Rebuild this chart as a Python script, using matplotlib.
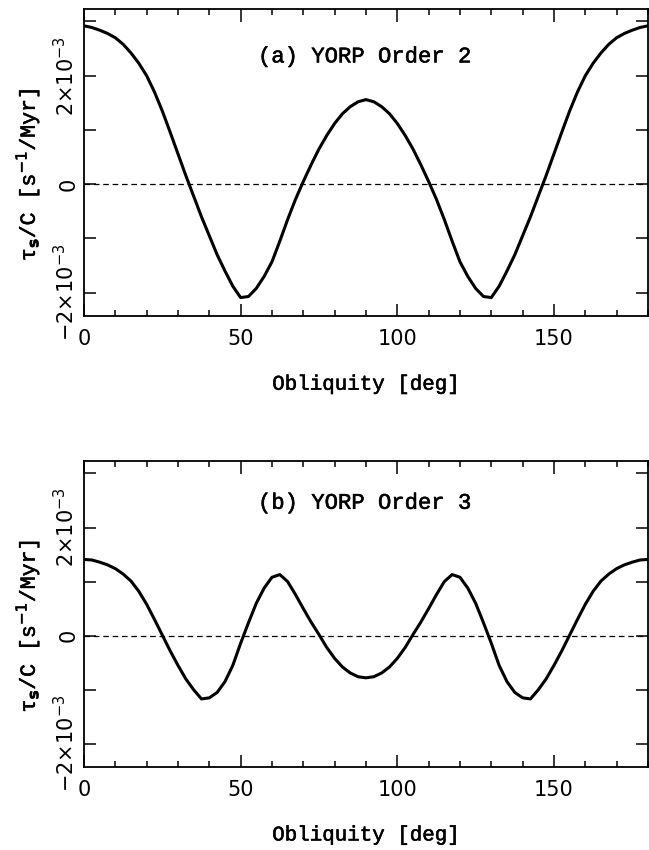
import numpy as np
import matplotlib
matplotlib.use('Agg')
import matplotlib.pyplot as plt
import matplotlib.patheffects as pe
from matplotlib.ticker import MultipleLocator, FixedLocator

# obliquity grid [deg]
obliquity = np.arange(0, 180.1, 2.5)

# torque values, in units of 1e-3 s^-1/Myr
order2 = [2.92, 2.89, 2.84, 2.78, 2.70, 2.58, 2.42, 2.23, 2.00, 1.70, 1.35, 0.96,
          0.56, 0.16, -0.22, -0.60, -0.95, -1.30, -1.60, -1.88, -2.09, -2.07, -1.92,
          -1.70, -1.43, -1.05, -0.65, -0.28, 0.05, 0.36, 0.65, 0.90, 1.12, 1.30, 1.43,
          1.52, 1.56,
          1.52, 1.43, 1.30, 1.12, 0.90, 0.65, 0.36, 0.05, -0.28, -0.65, -1.05, -1.43,
          -1.70, -1.92, -2.07, -2.09, -1.88, -1.60, -1.30, -0.95, -0.60, -0.22, 0.16,
          0.56, 0.96, 1.35, 1.70, 2.00, 2.23, 2.42, 2.58, 2.70, 2.78, 2.84, 2.89, 2.92]

order3 = [1.41, 1.40, 1.36, 1.31, 1.24, 1.14, 1.01, 0.82, 0.58, 0.30, 0.01, -0.28,
          -0.55, -0.80, -1.00, -1.17, -1.15, -1.05, -0.85, -0.55, -0.14, 0.24, 0.60,
          0.88, 1.08, 1.13, 1.00, 0.76, 0.50, 0.25, 0.02, -0.22, -0.42, -0.58, -0.69,
          -0.76, -0.78,
          -0.76, -0.69, -0.58, -0.42, -0.22, 0.02, 0.25, 0.50, 0.76, 1.00, 1.13, 1.08,
          0.88, 0.60, 0.24, -0.14, -0.55, -0.85, -1.05, -1.15, -1.17, -1.00, -0.80,
          -0.55, -0.28, 0.01, 0.30, 0.58, 0.82, 1.01, 1.14, 1.24, 1.31, 1.36, 1.40, 1.41]

panel_labels = ['(a) YORP Order 2', '(b) YORP Order 3']
ytick_vals = [-2e-3, 0, 2e-3]
ytick_labels = [r'$-2{\times}10^{-3}$', '0', r'$2{\times}10^{-3}$']

mono = 'Liberation Mono'
thick = [pe.withStroke(linewidth=0.4, foreground='black')]

fig = plt.figure(figsize=(6.49, 8.5), dpi=100)
ax1 = fig.add_axes([0.1294, 0.6282, 0.869, 0.3612])
ax2 = fig.add_axes([0.1294, 0.0976, 0.869, 0.3600])

for ax, vals, lab, ly in [(ax1, order2, panel_labels[0], 0.844),
                          (ax2, order3, panel_labels[1], 0.862)]:
    ax.plot(obliquity, np.array(vals) * 1e-3, color='black', lw=2.2,
            solid_joinstyle='round', solid_capstyle='round')
    ax.axhline(0, color='black', lw=0.9, dashes=(4.5, 3.0))
    ax.set_xlim(0, 180)
    ax.set_ylim(-2.43e-3, 3.23e-3)

    ax.xaxis.set_major_locator(MultipleLocator(50))
    ax.xaxis.set_minor_locator(MultipleLocator(10))
    ax.yaxis.set_major_locator(FixedLocator(ytick_vals))
    ax.yaxis.set_minor_locator(FixedLocator([-1e-3, 1e-3, 3e-3]))
    ax.set_yticklabels(ytick_labels, rotation=90, va='center')

    ax.tick_params(which='both', direction='in', top=True, right=True,
                   labelsize=15, width=1.1)
    ax.tick_params(axis='x', which='major', length=9, pad=9)
    ax.tick_params(axis='x', which='minor', length=4.5)
    ax.tick_params(axis='y', which='both', length=8.5, pad=4)
    for s in ax.spines.values():
        s.set_linewidth(1.3)

    ax.text(0.3085, ly, lab, transform=ax.transAxes, fontsize=16,
            family=mono, ha='left', va='center', path_effects=thick)
    ax.set_xlabel('Obliquity [deg]', fontsize=15, family=mono, va='center',
                  path_effects=thick)
    ax.xaxis.set_label_coords(0.5, -0.222)
    ax.text(-0.1, 0.46, r'τ$_{\bf s}$/C [s$^{-1}$/Myr]', transform=ax.transAxes,
            rotation=90, fontsize=15.5, family=mono,
            ha='center', va='center', path_effects=thick)

fig.savefig('out.png', dpi=100)
